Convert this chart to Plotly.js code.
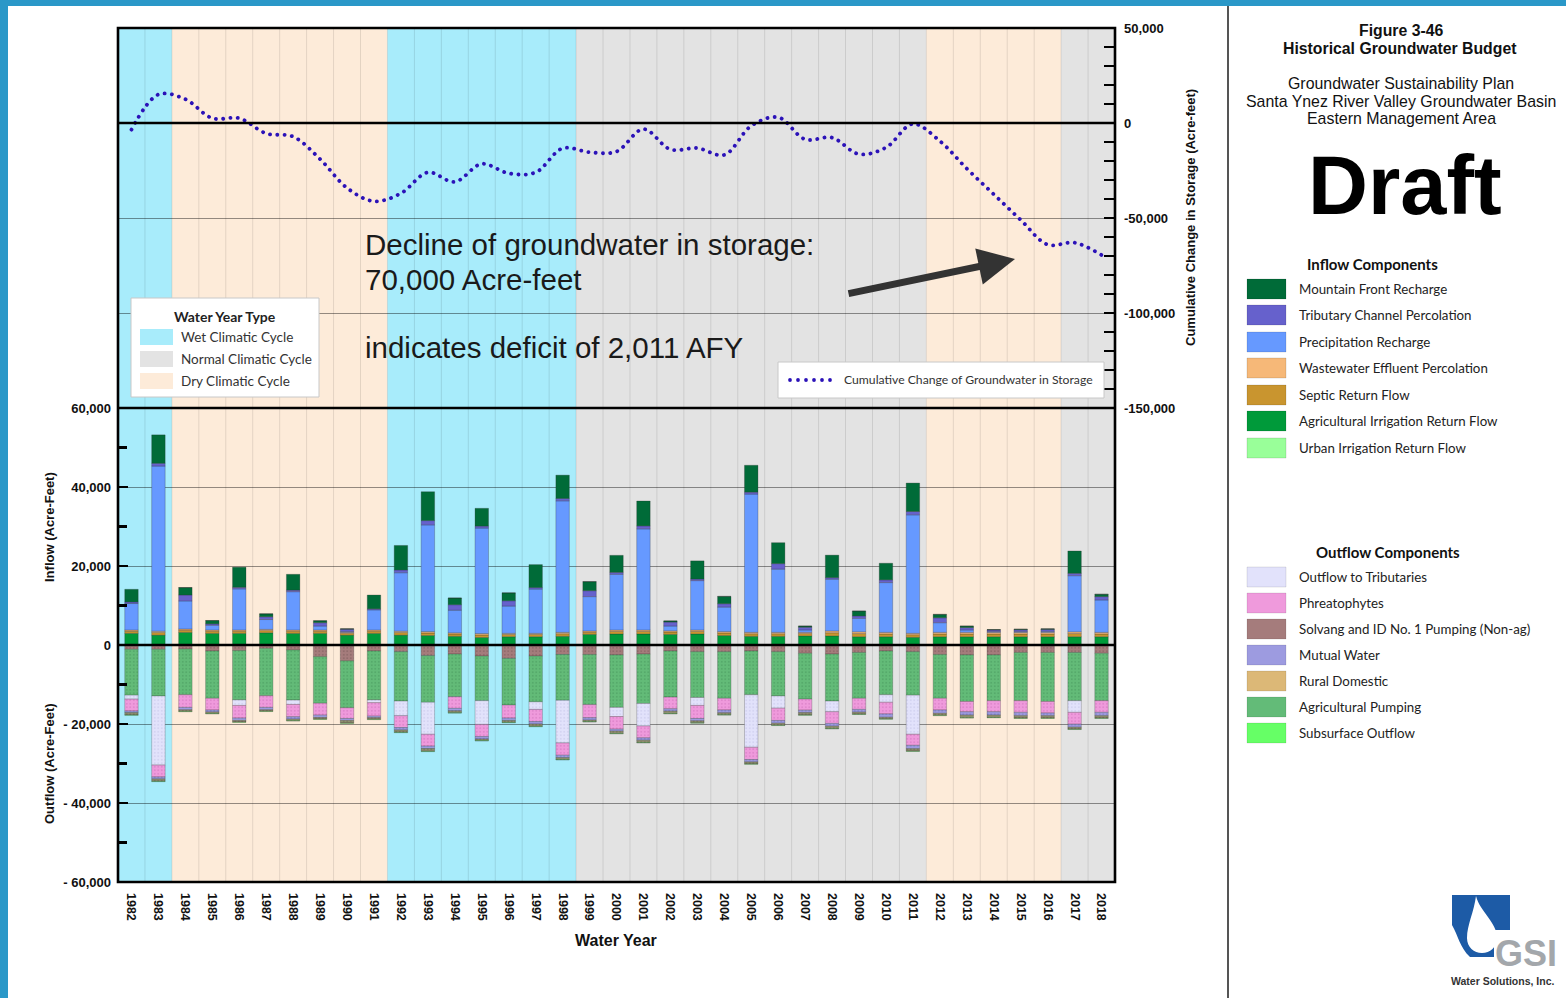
<!DOCTYPE html>
<html><head><meta charset="utf-8">
<script src="https://cdn.plot.ly/plotly-3.0.1.min.js"></script>
<style>
html,body{margin:0;padding:0;background:#fff;}
#chart{width:1566px;height:998px;}
.scatterlayer .js-line{stroke-linecap:round !important;}
</style></head><body><div id="chart"></div>
<script>
// ---------------- DATA ----------------
const years = ['1982','1983','1984','1985','1986','1987','1988','1989','1990','1991','1992','1993','1994','1995','1996','1997','1998','1999','2000','2001','2002','2003','2004','2005','2006','2007','2008','2009','2010','2011','2012','2013','2014','2015','2016','2017','2018'];

// Inflow components (acre-feet)
const mountainFrontRecharge = [3200,7200,1900,850,5100,750,4000,500,100,3500,6200,7300,1700,4500,2000,5800,5900,2300,4300,6300,300,4600,1850,6800,5300,300,5700,1250,4200,7200,850,400,100,150,150,5650,600];
const tributaryChannelPercolation = [400,700,1500,350,400,700,400,850,600,250,700,1100,1400,500,1350,400,600,1500,500,750,1000,400,850,500,1400,700,400,600,700,850,1250,600,400,450,500,600,850];
const precipitationRecharge = [6700,41800,7100,1200,10400,2500,9700,1000,200,5100,14800,27000,5700,26700,6900,11200,33300,8700,14100,25600,1200,12500,6200,35000,16000,600,13100,3400,12600,30000,2450,600,200,200,250,14200,8200];
const wastewaterEffluentPercolation = [300,350,300,300,300,300,300,300,250,300,350,350,300,350,300,300,350,300,350,350,300,350,350,350,350,300,450,450,400,350,400,400,400,400,400,450,400];
const septicReturnFlow = [550,650,550,550,550,550,550,550,450,550,650,650,600,650,550,550,650,550,650,650,600,650,650,650,650,600,800,800,700,650,700,700,700,700,700,800,700];
const agIrrigationReturnFlow = [2850,2400,3100,2850,2850,3000,2850,2850,2400,2850,2400,2300,2100,1800,2000,2000,2100,2600,2700,2700,2600,2700,2300,2100,2100,2200,2200,2000,2000,1850,2000,2000,2000,2000,2000,2000,2000];
const urbanIrrigationReturnFlow = [100,100,100,100,100,100,100,100,100,100,100,100,100,100,100,100,100,100,100,100,100,100,100,100,100,100,100,100,100,100,100,100,100,100,100,100,100];

// Outflow components (acre-feet, negative = out of basin)
const solvangPumping = [-1100,-1100,-1000,-1500,-1400,-850,-1250,-2950,-4000,-1500,-1700,-2700,-2300,-2800,-3400,-2800,-2400,-2400,-2500,-2300,-1500,-1700,-1700,-1500,-1700,-2100,-2300,-1900,-1500,-1700,-2400,-2500,-2500,-1900,-1900,-1900,-2100];
const agriculturalPumping = [-11600,-11800,-11600,-12000,-12500,-12000,-12700,-11800,-11900,-12400,-12500,-11800,-10800,-11300,-11800,-11600,-11600,-12700,-13300,-12500,-11700,-11600,-11800,-11100,-11200,-11600,-11900,-11600,-11100,-11000,-11100,-11800,-11600,-12200,-12400,-12200,-12000];
const outflowToTributaries = [-1000,-17500,0,0,-1400,0,-1100,0,0,-700,-3700,-8100,0,-6000,0,-1900,-10800,0,-2300,-5700,0,-2000,0,-13300,-3100,0,-2700,0,-1900,-9900,0,0,0,0,0,-2950,0];
const phreatophytes = [-3000,-3000,-3200,-2950,-3200,-2950,-3100,-3000,-2700,-3400,-3000,-3000,-2950,-3100,-3300,-3100,-3100,-3300,-3200,-3000,-2950,-3300,-2950,-3100,-3100,-2800,-2950,-2800,-2950,-2800,-2950,-2600,-2800,-2950,-2900,-3000,-2950];
const mutualWater = [-400,-500,-600,-500,-600,-600,-600,-600,-500,-400,-600,-600,-600,-600,-600,-600,-600,-600,-500,-600,-600,-600,-700,-600,-700,-600,-700,-700,-850,-850,-850,-850,-850,-850,-700,-750,-850];
const ruralDomestic = [-600,-600,-400,-400,-400,-350,-400,-400,-650,-400,-600,-700,-500,-400,-500,-600,-500,-400,-600,-600,-600,-500,-500,-500,-500,-600,-600,-500,-400,-600,-500,-650,-600,-600,-600,-500,-600];
const subsurfaceOutflow = [-100,-100,-100,-100,-100,-100,-100,-100,-100,-100,-100,-100,-100,-100,-100,-100,-100,-100,-100,-100,-100,-100,-100,-100,-100,-100,-100,-100,-100,-100,-100,-100,-100,-100,-100,-100,-100];

// Cumulative change of groundwater in storage (acre-feet)
const cumulativeChange = [-3500,15000,12500,2500,2500,-5500,-7200,-19000,-34200,-41200,-37000,-26000,-31000,-21500,-26500,-26000,-13300,-15400,-15000,-3200,-13900,-13200,-16800,-1500,3000,-8600,-7700,-16400,-12900,-500,-9500,-24000,-37500,-51000,-64000,-63000,-69500];

// Water year type periods
const periodStart = ['1982','1984','1992','1999','2012','2017'];
const periodEnd   = ['1983','1991','1998','2011','2016','2018'];
const periodType  = ['Wet','Dry','Wet','Normal','Dry','Normal'];

// Tick labels
const flowTickVals = [60000,40000,20000,0,-20000,-40000,-60000];
const flowTickText = ['60,000','40,000','20,000','0','- 20,000','- 40,000','- 60,000'];
const flowMinorVals = [50000,30000,10000,-10000,-30000,-50000];
const storageTickVals = [50000,0,-50000,-100000,-150000];
const storageTickText = ['50,000','0','-50,000','-100,000','-150,000'];
const storageMinorVals = [40000,30000,20000,10000,-10000,-20000,-30000,-40000,-60000,-70000,-80000,-90000,-110000,-120000,-130000,-140000];

// ---------------- STYLE ----------------
const W = 1566, H = 998;
const px = x => x / W;
const py = y => 1 - y / H;
const SANS = 'Liberation Sans, Arial, sans-serif';
const CAL = 'Lato, Open Sans, sans-serif';
const climateColors = {Wet:'#a8ecfb', Normal:'#e3e3e3', Dry:'#fdebd9'};

const inflowSeries = [
  {name:'Urban Irrigation Return Flow', y:urbanIrrigationReturnFlow, color:'#99ff99'},
  {name:'Agricultural Irrigation Return Flow', y:agIrrigationReturnFlow, color:'#009a3a'},
  {name:'Septic Return Flow', y:septicReturnFlow, color:'#c9952f'},
  {name:'Wastewater Effluent Percolation', y:wastewaterEffluentPercolation, color:'#f6b878'},
  {name:'Precipitation Recharge', y:precipitationRecharge, color:'#6699ff'},
  {name:'Tributary Channel Percolation', y:tributaryChannelPercolation, color:'#6661cc'},
  {name:'Mountain Front Recharge', y:mountainFrontRecharge, color:'#006b38'}
];
const outflowSeries = [
  {name:'Solvang and ID No. 1 Pumping (Non-ag)', y:solvangPumping, color:'#a57c7c', tex:'#8a6666'},
  {name:'Agricultural Pumping', y:agriculturalPumping, color:'#63bb78', tex:'#52a566'},
  {name:'Outflow to Tributaries', y:outflowToTributaries, color:'#e2e2fb', tex:'#d0d0f0'},
  {name:'Phreatophytes', y:phreatophytes, color:'#ef9adc', tex:'#dc82c8'},
  {name:'Mutual Water', y:mutualWater, color:'#9d9be0', tex:'#8886cc'},
  {name:'Rural Domestic', y:ruralDomestic, color:'#8f8f6f', tex:'#78785c'},
  {name:'Subsurface Outflow', y:subsurfaceOutflow, color:'#66ff66', tex:'#44dd44'}
];

const traces = [];
inflowSeries.forEach(s => traces.push({
  type:'bar', x:years, y:s.y, name:s.name, xaxis:'x', yaxis:'y',
  marker:{color:s.color, line:{color:'rgba(40,40,40,0.45)', width:0.6}}, showlegend:false
}));
outflowSeries.forEach(s => traces.push({
  type:'bar', x:years, y:s.y, name:s.name, xaxis:'x', yaxis:'y',
  marker:{color:s.color, line:{color:'rgba(40,40,40,0.4)', width:0.6},
    pattern:{shape:'.', fgcolor:s.tex, bgcolor:s.color, size:3.5, solidity:0.2, fillmode:'replace'}},
  showlegend:false
}));
traces.push({
  type:'scatter', mode:'lines', x:years, y:cumulativeChange, xaxis:'x', yaxis:'y2',
  name:'Cumulative Change of Groundwater in Storage',
  line:{color:'#2b12b8', width:3.8, dash:'0.1px,7.2px', shape:'spline', smoothing:1},
  showlegend:false
});

// ---------------- SHAPES ----------------
const shapes = [];
const yBot = py(882), yMid = py(408), yTop = py(28);
periodStart.forEach((s, i) => {
  shapes.push({type:'rect', xref:'x', yref:'paper', x0:years.indexOf(s)-0.5, x1:years.indexOf(periodEnd[i])+0.5,
    y0:yBot, y1:yTop, fillcolor:climateColors[periodType[i]], line:{width:0}, layer:'below'});
});
for (let i = 1; i < years.length; i++) {
  shapes.push({type:'line', xref:'x', yref:'paper', x0:i-0.5, x1:i-0.5, y0:yBot, y1:yTop,
    line:{color:'rgba(0,0,0,0.1)', width:1}, layer:'below'});
}
// zero lines
shapes.push({type:'line', xref:'paper', yref:'y', x0:px(118), x1:px(1115), y0:0, y1:0, line:{color:'#000', width:2.6}, layer:'above'});
shapes.push({type:'line', xref:'paper', yref:'y2', x0:px(118), x1:px(1115), y0:0, y1:0, line:{color:'#000', width:2.6}, layer:'above'});
// frame + divider
shapes.push({type:'rect', xref:'paper', yref:'paper', x0:px(118), x1:px(1115), y0:yBot, y1:yTop, line:{color:'#000', width:2.6}, layer:'above'});
shapes.push({type:'line', xref:'paper', yref:'paper', x0:px(118), x1:px(1115), y0:yMid, y1:yMid, line:{color:'#000', width:2.6}, layer:'above'});

// Water year type legend box
shapes.push({type:'rect', xref:'paper', yref:'paper', x0:px(131), x1:px(319), y0:py(397), y1:py(298), fillcolor:'#fff', line:{color:'#c8c8c8', width:1}, layer:'above'});
const wyNames = ['Wet Climatic Cycle','Normal Climatic Cycle','Dry Climatic Cycle'];
const wyKeys = ['Wet','Normal','Dry'];
const wyRows = [337,359,381];
wyKeys.forEach((k,i) => shapes.push({type:'rect', xref:'paper', yref:'paper', x0:px(140), x1:px(173), y0:py(wyRows[i]+8), y1:py(wyRows[i]-8), fillcolor:climateColors[k], line:{width:0}, layer:'above'}));

// Cumulative line legend box
shapes.push({type:'rect', xref:'paper', yref:'paper', x0:px(778), x1:px(1104), y0:py(398), y1:py(362), fillcolor:'#fff', line:{color:'#c8c8c8', width:1}, layer:'above'});
[790,798,806,814,822,830].forEach(cx => shapes.push({type:'circle', xref:'paper', yref:'paper', x0:px(cx-1.9), x1:px(cx+1.9), y0:py(381.9), y1:py(378.1), fillcolor:'#2b12b8', line:{width:0}, layer:'above'}));

// Right side legends
const inflowLegendOrder = inflowSeries.slice().reverse();
const inflowRows = [289,315,342,368,395,421,448];
inflowLegendOrder.forEach((s,i) => shapes.push({type:'rect', xref:'paper', yref:'paper', x0:px(1247), x1:px(1286), y0:py(inflowRows[i]+10), y1:py(inflowRows[i]-10), fillcolor:s.color, line:{color:'rgba(0,0,0,0.15)', width:0.8}, layer:'above'}));
const outflowLegendNames = ['Outflow to Tributaries','Phreatophytes','Solvang and ID No. 1 Pumping (Non-ag)','Mutual Water','Rural Domestic','Agricultural Pumping','Subsurface Outflow'];
const outflowLegendColors = ['#e2e2fb','#ef9adc','#a57c7c','#9d9be0','#dcb877','#63bb78','#66ff66'];
const outflowRows = [577,603,629,655,681,707,733];
outflowLegendNames.forEach((n,i) => shapes.push({type:'rect', xref:'paper', yref:'paper', x0:px(1247), x1:px(1286), y0:py(outflowRows[i]+10), y1:py(outflowRows[i]-10), fillcolor:outflowLegendColors[i], line:{color:'rgba(0,0,0,0.12)', width:0.8}, layer:'above'}));

// Separator & frame
shapes.push({type:'line', xref:'paper', yref:'paper', x0:px(1228), x1:px(1228), y0:py(6), y1:0, line:{color:'#555', width:2}, layer:'above'});
shapes.push({type:'rect', xref:'paper', yref:'paper', x0:0, x1:1, y0:py(6), y1:1, fillcolor:'#2a98c8', line:{width:0}, layer:'above'});
shapes.push({type:'rect', xref:'paper', yref:'paper', x0:0, x1:px(8), y0:0, y1:1, fillcolor:'#2a98c8', line:{width:0}, layer:'above'});

// GSI logo
function pathPx(segs){
  return segs.map(s => s[0] + ' ' + s.slice(1).map(p => px(p[0]).toFixed(5)+','+py(p[1]).toFixed(5)).join(' ')).join(' ') + ' Z';
}
shapes.push({type:'rect', xref:'paper', yref:'paper', x0:px(1452), x1:px(1510), y0:py(957), y1:py(895), fillcolor:'#1d5ba6', line:{width:0}, layer:'above'});
shapes.push({type:'path', xref:'paper', yref:'paper', path:pathPx([
  ['M',[1476,896]], ['C',[1480,912],[1497,922],[1497,938]], ['C',[1497,947],[1490,953],[1482,953]],
  ['C',[1474,953],[1467,947],[1467,938]], ['C',[1467,925],[1474,912],[1476,896]]
]), fillcolor:'#fff', line:{width:0}, layer:'above'});
shapes.push({type:'path', xref:'paper', yref:'paper', path:pathPx([
  ['M',[1452,925]], ['C',[1458,935],[1460,948],[1470,957]], ['L',[1452,957]]
]), fillcolor:'#fff', line:{width:0}, layer:'above'});
shapes.push({type:'rect', xref:'paper', yref:'paper', x0:px(1494), x1:px(1562), y0:py(972), y1:py(930), fillcolor:'#fff', line:{width:0}, layer:'above'});

// ---------------- ANNOTATIONS ----------------
function txt(text, x, y, font, extra){
  return Object.assign({xref:'paper', yref:'paper', x:px(x), y:py(y), text:text, showarrow:false,
    xanchor:'center', yanchor:'middle', font:font}, extra || {});
}
const ann = [];
const axTitleFont = {family:SANS, size:13, weight:700, color:'#111'};
ann.push(txt('Inflow (Acre-Feet)', 49, 527, axTitleFont, {textangle:-90}));
ann.push(txt('Outflow (Acre-Feet)', 49, 764, axTitleFont, {textangle:-90}));
ann.push(txt('Cumulative Change in Storage (Acre-feet)', 1190, 218, axTitleFont, {textangle:-90}));
ann.push(txt('Water Year', 616, 940, {family:SANS, size:16, weight:700, color:'#111'}));
const bigFont = {family:SANS, size:29.5, color:'#1a1a1a'};
ann.push(txt('Decline of groundwater in storage:', 363, 245, bigFont, {xanchor:'left'}));
ann.push(txt('70,000 Acre-feet', 363, 279, bigFont, {xanchor:'left'}));
ann.push(txt('indicates deficit of 2,011 AFY', 363, 347, bigFont, {xanchor:'left'}));
ann.push({xref:'paper', yref:'paper', x:px(1015), y:py(259), ax:-168, ay:35, text:'', showarrow:true,
  arrowhead:2, arrowsize:1.05, arrowwidth:7, arrowcolor:'#333'});
// water year legend
ann.push(txt('Water Year Type', 225, 316, {family:CAL, size:14, weight:700, color:'#222'}));
wyNames.forEach((n,i) => ann.push(txt(n, 179, wyRows[i], {family:CAL, size:13.5, color:'#333'}, {xanchor:'left'})));
ann.push(txt('Cumulative Change of Groundwater in Storage', 842, 380, {family:CAL, size:12.2, color:'#333'}, {xanchor:'left'}));
// right panel
const titleFont = {family:SANS, size:15.8, weight:700, color:'#111'};
const subFont = {family:SANS, size:15.9, color:'#111'};
ann.push(txt('Figure 3-46', 1401, 30, titleFont));
ann.push(txt('Historical Groundwater Budget', 1400, 48, titleFont));
ann.push(txt('Groundwater Sustainability Plan', 1401, 83, subFont));
ann.push(txt('Santa Ynez River Valley Groundwater Basin', 1401, 101, subFont));
ann.push(txt('Eastern Management Area', 1401, 118, subFont));
ann.push(txt('Draft', 1405, 186, {family:SANS, size:83, weight:700, color:'#000'}));
ann.push(txt('Inflow Components', 1372, 264, {family:CAL, size:15, weight:700, color:'#111'}));
inflowLegendOrder.forEach((s,i) => ann.push(txt(s.name, 1297, inflowRows[i], {family:CAL, size:13.3, color:'#222'}, {xanchor:'left'})));
ann.push(txt('Outflow Components', 1388, 552, {family:CAL, size:15, weight:700, color:'#111'}));
outflowLegendNames.forEach((n,i) => ann.push(txt(n, 1297, outflowRows[i], {family:CAL, size:13.3, color:'#222'}, {xanchor:'left'})));
ann.push(txt('GSI', 1526, 953, {family:SANS, size:36, weight:700, color:'#a3a7ab'}));
ann.push(txt('Water Solutions, Inc.', 1503, 981, {family:'Liberation Sans Narrow, '+SANS, size:10.5, weight:700, color:'#333'}));

// ---------------- LAYOUT ----------------
const tickFont = {family:SANS, size:13, weight:700, color:'#111'};
const layout = {
  width:W, height:H, margin:{l:0,r:0,t:0,b:0},
  paper_bgcolor:'#fff', plot_bgcolor:'rgba(0,0,0,0)',
  barmode:'relative', bargap:0.5, showlegend:false, hovermode:false,
  font:{family:SANS},
  xaxis:{domain:[px(118), px(1115)], type:'category', range:[-0.5, years.length-0.5], anchor:'y',
    showgrid:false, zeroline:false, showline:false, ticks:'', tickangle:90,
    tickfont:{family:SANS, size:12.5, weight:700, color:'#111'},
    ticklabelstandoff:10, fixedrange:true},
  yaxis:{domain:[py(882), py(408)], range:[-60000,60000], anchor:'x',
    tickmode:'array', tickvals:flowTickVals, ticktext:flowTickText,
    ticks:'inside', ticklen:10, tickwidth:2.5, tickcolor:'#000',
    minor:{tickmode:'array', tickvals:flowMinorVals, ticks:'inside', ticklen:9, tickwidth:2.2, tickcolor:'#000', showgrid:false},
    showgrid:true, gridcolor:'rgba(0,0,0,0.42)', gridwidth:1, zeroline:false, showline:false,
    tickfont:tickFont, ticklabelstandoff:6, fixedrange:true},
  yaxis2:{domain:[py(408), py(28)], range:[-150000,50000], anchor:'x', side:'right',
    tickmode:'array', tickvals:storageTickVals, ticktext:storageTickText,
    ticks:'inside', ticklen:11, tickwidth:2.5, tickcolor:'#000',
    minor:{tickmode:'array', tickvals:storageMinorVals, ticks:'inside', ticklen:11, tickwidth:2.2, tickcolor:'#000', showgrid:false},
    showgrid:true, gridcolor:'rgba(0,0,0,0.42)', gridwidth:1, zeroline:false, showline:false,
    tickfont:tickFont, ticklabelstandoff:8, fixedrange:true},
  shapes:shapes,
  annotations:ann
};
Plotly.newPlot('chart', traces, layout, {staticPlot:true, displayModeBar:false});
</script></body></html>
